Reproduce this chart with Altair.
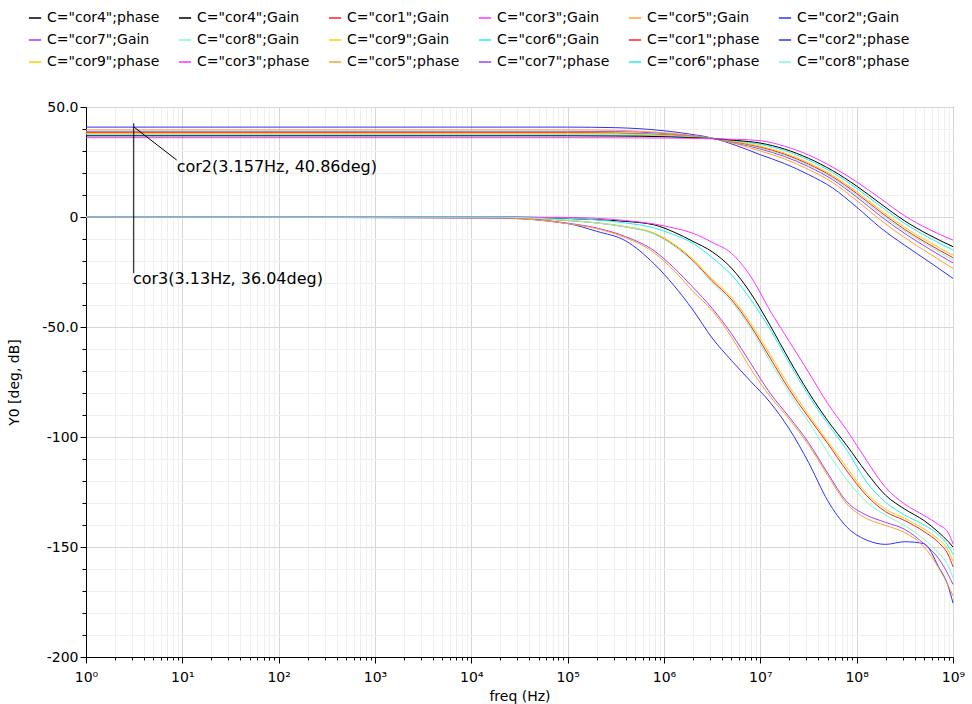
import altair as alt
import pandas as pd

FONT = "DejaVu Sans"

# Legend order (row-major, 6 columns) and colours
SERIES = ['C="cor4";phase', 'C="cor4";Gain', 'C="cor1";Gain', 'C="cor3";Gain', 'C="cor5";Gain', 'C="cor2";Gain',
          'C="cor7";Gain', 'C="cor8";Gain', 'C="cor9";Gain', 'C="cor6";Gain', 'C="cor1";phase', 'C="cor2";phase',
          'C="cor9";phase', 'C="cor3";phase', 'C="cor5";phase', 'C="cor7";phase', 'C="cor6";phase', 'C="cor8";phase']
COR_COLOR = {"cor1": "#ff2020", "cor2": "#3030ff", "cor3": "#ff30ff", "cor4": "#000000", "cor5": "#ffa030",
             "cor6": "#20f0f0", "cor7": "#a040f0", "cor8": "#80f8d0", "cor9": "#ffcc00"}

# Frequencies (Hz) of the read-off points
FREQ_GAIN = [1, 1.86e4, 1e5, 2e5, 3.98e5, 7.94e5, 1.26e6, 2e6, 3.16e6, 5.01e6, 7.94e6, 1.26e7, 2e7,
             3.16e7, 5.01e7, 7.94e7, 1.26e8, 2e8, 3.16e8, 5.01e8, 7.08e8, 8.91e8, 1e9]
FREQ_PHASE = [1, 1e5, 3.16e5, 1e6, 1.78e6, 3.16e6, 5.62e6, 1e7, 1.78e7, 3.16e7, 5.62e7, 1e8, 1.78e8,
              3.16e8, 5.62e8, 1e9]

# Lower curves (Gain, dB)
gain_cor2 = [0, -0.5, -3.0, -6.5, -10.8, -21.4, -31.0, -42.3, -55.0, -65.2, -74.7, -84.2, -96.4, -111.5,
             -129.0, -141.0, -146.8, -148.8, -147.6, -148.5, -159.0, -167.8, -175.5]
gain_cor7 = [0, -0.3, -2.8, -5.0, -8.9, -15.4, -23.0, -32.0, -41.5, -53.0, -66.5, -80.0, -91.0, -102.5,
             -116.5, -129.5, -135.5, -138.8, -142.0, -148.6, -155.2, -162.5, -167.0]
gain_cor5 = [0, -0.4, -3.0, -5.3, -9.4, -16.3, -24.2, -33.8, -42.5, -54.5, -69.0, -81.5, -92.0, -103.5,
             -117.5, -130.5, -137.0, -140.2, -143.5, -150.0, -159.5, -167.5, -172.3]
gain_cor1 = [0, -0.2, -1.6, -2.7, -4.5, -7.6, -12.7, -19.8, -29.0, -37.5, -49.5, -64.0, -78.5, -91.0,
             -103.0, -115.5, -126.5, -134.0, -138.0, -143.0, -148.0, -153.5, -159.0]
gain_cor9 = [0, -0.2, -1.5, -2.6, -4.3, -7.3, -12.2, -19.2, -28.2, -36.5, -48.3, -62.5, -77.0, -89.8,
             -102.0, -114.0, -125.5, -132.8, -137.0, -141.8, -146.5, -151.5, -156.5]
gain_cor8 = [0, -0.1, -1.5, -2.7, -4.5, -7.8, -13.0, -20.3, -29.8, -38.5, -50.5, -65.5, -80.0, -93.0,
             -107.0, -119.5, -129.5, -135.5, -140.3, -146.5, -152.8, -158.5, -164.0]
gain_cor4 = [0, 0, -0.7, -1.2, -2.0, -3.6, -6.8, -11.1, -15.8, -23.2, -34.6, -49.2, -65.0, -79.6,
             -92.6, -104.0, -116.0, -126.5, -132.8, -138.0, -143.3, -147.5, -150.0]
gain_cor6 = [0, 0, -0.6, -1.3, -2.7, -5.0, -8.0, -12.0, -18.5, -26.3, -37.5, -51.0, -66.5, -81.0,
             -94.0, -106.0, -120.3, -129.7, -135.5, -140.0, -144.5, -149.5, -153.5]
gain_cor3 = [0, 0, -0.2, -0.6, -1.6, -3.2, -5.0, -7.4, -11.5, -16.5, -27.0, -42.5, -56.6, -70.5,
             -84.8, -97.0, -110.5, -123.0, -130.5, -135.7, -139.8, -143.5, -148.6]

# Upper curves (phase, deg)
phase_cor2 = [40.86, 40.86, 40.6, 39.2, 37.8, 35.9, 32.5, 28.3, 24.3, 19.3, 13.2, 4.5, -5.0, -12.9, -20.3, -27.9]
phase_cor5 = [39.6, 39.6, 39.4, 38.3, 37.3, 35.8, 33.2, 30.0, 26.4, 21.6, 15.7, 7.5, -1.5, -9.4, -16.5, -23.4]
phase_cor7 = [38.9, 38.9, 38.8, 37.9, 37.0, 35.8, 33.6, 30.9, 27.5, 22.9, 17.0, 9.1, 0.3, -7.5, -14.4, -20.9]
phase_cor8 = [38.55, 38.55, 38.4, 37.6, 36.8, 35.8, 33.8, 31.4, 28.1, 23.6, 17.8, 10.0, 1.4, -6.5, -13.2, -19.6]
phase_cor1 = [38.3, 38.3, 38.1, 37.4, 36.7, 35.7, 34.0, 31.8, 28.6, 24.1, 18.3, 10.7, 2.2, -5.7, -12.4, -18.5]
phase_cor9 = [37.9, 37.9, 37.8, 37.2, 36.6, 35.7, 34.2, 32.2, 29.1, 24.7, 19.0, 11.5, 3.1, -4.7, -11.3, -17.3]
phase_cor6 = [37.3, 37.3, 37.2, 36.8, 36.3, 35.7, 34.6, 33.0, 30.2, 25.9, 20.2, 13.0, 4.8, -3.0, -9.4, -15.0]
phase_cor4 = [36.9, 36.9, 36.8, 36.5, 36.1, 35.65, 34.8, 33.6, 30.9, 26.7, 21.1, 14.05, 6.0, -1.8, -8.1, -13.5]
phase_cor3 = [36.04, 36.04, 36.0, 35.9, 35.8, 35.6, 35.3, 34.7, 32.2, 28.2, 22.7, 16.0, 8.3, 0.5, -5.6, -10.5]

# Cursor markers
MARK_LINE_FREQ = [3.13, 3.157]
MARK_LINE_VAL = [42.6, 40.86]
MARK_LINE_FREQ2 = [3.13, 8.74]
MARK_LINE_VAL2 = [-25.5, 25.9]
MARK_LABELS = ["cor3(3.13Hz, 36.04deg)", "cor2(3.157Hz, 40.86deg)"]
MARK_LABEL_FREQ = [3.07, 8.74]
MARK_LABEL_VAL = [-28.2, 22.9]

# ---------------------------------------------------------------
rows = []
phase_sets = [("cor2", phase_cor2), ("cor5", phase_cor5), ("cor7", phase_cor7), ("cor8", phase_cor8),
              ("cor1", phase_cor1), ("cor9", phase_cor9), ("cor6", phase_cor6), ("cor4", phase_cor4),
              ("cor3", phase_cor3)]
gain_sets = [("cor2", gain_cor2), ("cor7", gain_cor7), ("cor5", gain_cor5), ("cor1", gain_cor1),
             ("cor9", gain_cor9), ("cor4", gain_cor4), ("cor6", gain_cor6), ("cor3", gain_cor3),
             ("cor8", gain_cor8)]
for cor, vals in phase_sets:
    for f, v in zip(FREQ_PHASE, vals):
        rows.append({"freq": f, "val": v, "series": f'C="{cor}";phase'})
for cor, vals in gain_sets:
    for f, v in zip(FREQ_GAIN, vals):
        rows.append({"freq": f, "val": v, "series": f'C="{cor}";Gain'})
df = pd.DataFrame(rows)

colors = [COR_COLOR[s.split('"')[1]] for s in SERIES]

decade_test = "abs(log(datum.value)/LN10 - round(log(datum.value)/LN10)) < 0.000001"
x_ticks = [k * 10 ** e for e in range(0, 9) for k in range(1, 10)] + [1e9]
y_ticks = list(range(-200, 51, 10))

xscale = alt.Scale(type="log", domain=[1, 1e9], nice=False)
yscale = alt.Scale(domain=[-200, 50], nice=False, zero=False)

xaxis = alt.Axis(
    values=x_ticks, title="freq (Hz)", grid=True,
    gridColor={"condition": {"test": decade_test, "value": "#d6d6d6"}, "value": "#efefef"},
    tickSize={"condition": {"test": decade_test, "value": 6}, "value": 3},
    labelExpr="(" + decade_test + ") ? '10' + ['\u2070','\u00b9','\u00b2','\u00b3','\u2074','\u2075','\u2076','\u2077','\u2078','\u2079'][round(log(datum.value)/LN10)] : ''",
    labelOverlap=False, labelFlush=False, tickColor="black", domainColor="black",
    labelColor="black", labelFont=FONT, labelFontSize=14, labelPadding=7,
    titleFont=FONT, titleFontSize=14, titleFontWeight="normal", titleColor="black", titlePadding=5,
)
yaxis = alt.Axis(
    values=y_ticks, title="Y0 [deg, dB]", grid=True,
    gridColor={"condition": {"test": "datum.value % 50 === 0", "value": "#d6d6d6"}, "value": "#efefef"},
    tickSize={"condition": {"test": "datum.value % 50 === 0", "value": 6}, "value": 4},
    labelExpr="datum.value % 50 === 0 ? (datum.value === 50 ? '50.0' : (datum.value === -50 ? '-50.0' : toString(datum.value))) : ''",
    labelOverlap=False, labelFlush=False, tickColor="black", domainColor="black",
    labelColor="black", labelFont=FONT, labelFontSize=14, labelPadding=2,
    titleFont=FONT, titleFontSize=14, titleFontWeight="normal", titleColor="black", titlePadding=20,
)

lines = alt.Chart(df).mark_line(strokeWidth=1, interpolate="monotone").encode(
    x=alt.X("freq:Q", scale=xscale, axis=xaxis),
    y=alt.Y("val:Q", scale=yscale, axis=yaxis),
    color=alt.Color("series:N", scale=alt.Scale(domain=SERIES, range=colors),
                    legend=alt.Legend(orient="none", legendX=-58, legendY=-96, columns=6,
                                      direction="horizontal", title=None, symbolType="stroke",
                                      symbolSize=150, symbolStrokeWidth=1.5, labelFont=FONT,
                                      labelFontSize=14, labelColor="black", labelOffset=5,
                                      columnPadding=15, rowPadding=8, gridAlign="all",
                                      labelLimit=300)),
    detail="series:N",
)

mk = pd.DataFrame({"freq": MARK_LINE_FREQ, "val": MARK_LINE_VAL, "freq2": MARK_LINE_FREQ2,
                   "val2": MARK_LINE_VAL2})
mark_lines = alt.Chart(mk).mark_rule(color="black", strokeWidth=1).encode(
    x=alt.X("freq:Q", scale=xscale, axis=xaxis), y=alt.Y("val:Q", scale=yscale, axis=yaxis),
    x2="freq2:Q", y2="val2:Q",
)
ml = pd.DataFrame({"freq": MARK_LABEL_FREQ, "val": MARK_LABEL_VAL, "label": MARK_LABELS})
mark_text = alt.Chart(ml).mark_text(align="left", baseline="middle", font=FONT, fontSize=16,
                                    color="black").encode(
    x=alt.X("freq:Q", scale=xscale, axis=xaxis), y=alt.Y("val:Q", scale=yscale, axis=yaxis),
    text="label:N",
)

chart = alt.layer(lines, mark_lines, mark_text).properties(
    width=867, height=550,
    padding={"left": 86, "top": 107, "right": 19, "bottom": 47},
    autosize=alt.AutoSizeParams(type="none"),
    background="white",
).configure_view(stroke="#444444", strokeWidth=1)

chart.save("out.html", embed_options={"renderer": "svg", "actions": False})
